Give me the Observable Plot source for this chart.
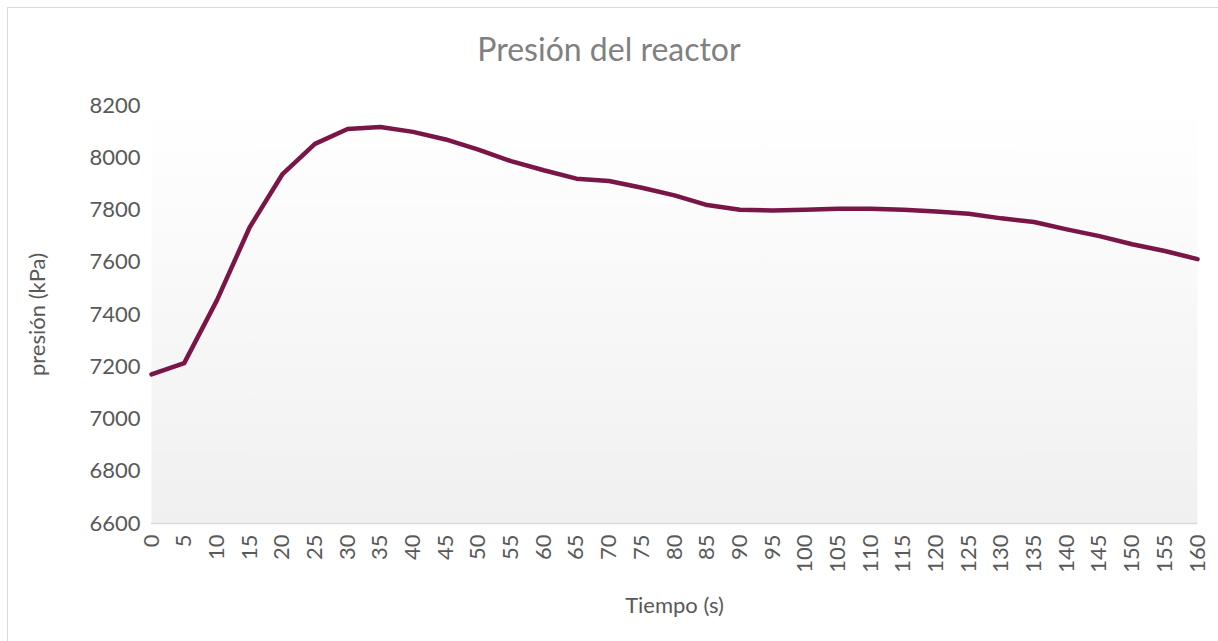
<!DOCTYPE html>
<html>
<head>
<meta charset="utf-8">
<script src="https://cdn.jsdelivr.net/npm/d3@7"></script>
<script src="https://cdn.jsdelivr.net/npm/@observablehq/plot@0.6"></script>
<style>
  html, body { margin: 0; padding: 0; background: #fff; overflow: hidden; }
  #wrap { position: relative; width: 1218px; height: 641px; }
  #border { position: absolute; left: 7px; top: 7px; width: 1220px; height: 640px; border: 1px solid #d9d9d9; box-sizing: border-box; pointer-events: none; }
  #title { position: absolute; left: 0; top: 0; width: 1218px; height: 85px; text-align: center; font-family: Lato, "Open Sans", sans-serif; font-size: 32px; color: #808080; line-height: 85px; padding-top: 6px; box-sizing: border-box; }
  #chart { position: absolute; left: 0; top: 85px; }
</style>
</head>
<body>
<div id="wrap">
  <div id="border"></div>
  <div id="title">Presión del reactor</div>
  <div id="chart"></div>
</div>
<script>
const tiempo = [0,5,10,15,20,25,30,35,40,45,50,55,60,65,70,75,80,85,90,95,100,105,110,115,120,125,130,135,140,145,150,155,160];
const presion = [7171,7214,7454,7733,7936,8053,8110,8118,8099,8070,8031,7987,7952,7920,7911,7885,7856,7819,7801,7798,7801,7805,7805,7801,7794,7786,7768,7754,7726,7700,7669,7643,7612];
const yTicks = [6600,6800,7000,7200,7400,7600,7800,8000,8200];
const xTicks = tiempo;
const titleY = "presión (kPa)";
const titleX = "Tiempo (s)";

const data = tiempo.map((t, i) => ({t, p: presion[i]}));

const plot = Plot.plot({
  width: 1218,
  height: 556,
  marginLeft: 151,
  marginRight: 21,
  marginTop: 20,
  marginBottom: 118,
  style: {fontFamily: "Lato, 'Open Sans', sans-serif", fontSize: "22px", color: "#595959", background: "transparent", overflow: "visible"},
  x: {domain: [0, 160]},
  y: {domain: [6600, 8200]},
  marks: [
    Plot.frame({fill: "url(#bgGrad)", stroke: "none"}),
    Plot.ruleY([6600], {stroke: "#d9d9d9", strokeWidth: 1.5}),
    Plot.axisY({ticks: yTicks, tickSize: 0, tickPadding: 11, tickFormat: d => String(d), label: titleY, labelAnchor: "center", labelOffset: 122, labelArrow: "none", fill: "#595959"}),
    Plot.axisX({ticks: xTicks, tickSize: 0, tickPadding: 11, tickRotate: -90, tickFormat: d => String(d), label: titleX, labelAnchor: "center", labelOffset: 89, labelArrow: "none", fill: "#595959"}),
    Plot.line(data, {x: "t", y: "p", stroke: "#7a1548", strokeWidth: 4.5, strokeLinejoin: "round", strokeLinecap: "round"})
  ]
});

const svg = d3.select(plot);
const defs = svg.insert("defs", ":first-child");
const g = defs.append("linearGradient").attr("id", "bgGrad").attr("x1", 0).attr("y1", 0).attr("x2", 0).attr("y2", 1);
g.append("stop").attr("offset", "0%").attr("stop-color", "#ffffff");
g.append("stop").attr("offset", "100%").attr("stop-color", "#f0f0f0");

document.getElementById("chart").appendChild(plot);
</script>
</body>
</html>
